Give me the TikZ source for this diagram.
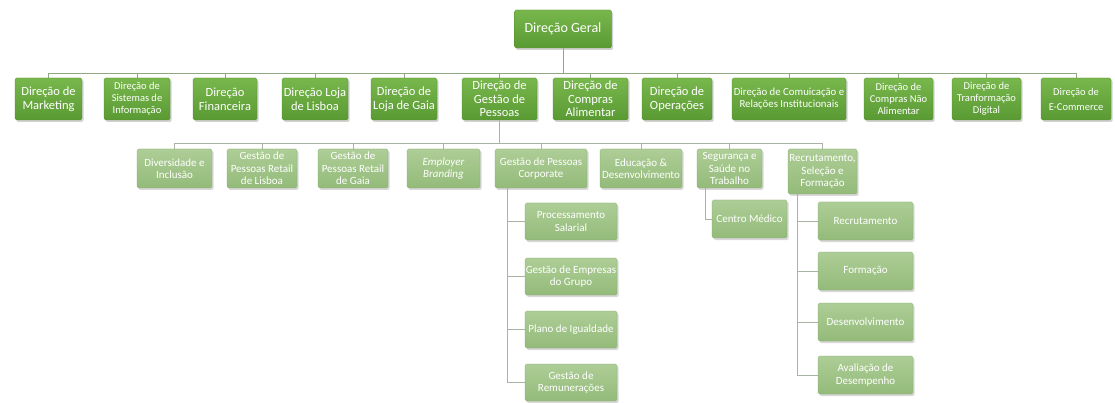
\documentclass[tikz,border=0pt]{standalone}
\usepackage{fontspec}
\setmainfont{Carlito}
\usetikzlibrary{shadows}
\definecolor{gtop}{HTML}{78B74C}
\definecolor{gbot}{HTML}{5A9A33}
\definecolor{ltop}{HTML}{ADCD96}
\definecolor{lbot}{HTML}{94BB7A}
\definecolor{lineA}{HTML}{8FA882}
\definecolor{lineB}{HTML}{A9B3A3}
\tikzset{
  x=1pt,y=-1pt,
  dbox/.style={rectangle, rounded corners=1.5pt, top color=gtop, bottom color=gbot,
    draw=gbot!90!black, line width=0.3pt, text=white, align=center, inner sep=0.5pt,
    drop shadow={opacity=0.35, shadow xshift=1.5pt, shadow yshift=-2pt},
    font=\fontsize{12}{13}\selectfont},
  sbox/.style={rectangle, rounded corners=1.5pt, top color=ltop, bottom color=lbot,
    draw=lbot!90!black, line width=0.3pt, text=white, align=center, inner sep=0.5pt,
    drop shadow={opacity=0.3, shadow xshift=1.5pt, shadow yshift=-2pt},
    font=\fontsize{11}{12.3}\selectfont},
  connA/.style={draw=lineA, line width=0.9pt},
  connB/.style={draw=lineB, line width=0.9pt},
}
\begin{document}
\begin{tikzpicture}
\useasboundingbox[fill=white] (0,0) rectangle (1115,403);
% top
\node[dbox, minimum width=97pt, minimum height=38pt, font=\fontsize{14}{16}\selectfont] (dg) at (563,29) {Direção Geral};
% row 2
\foreach \n/\cx/\w/\t/\f/\s in {
  mk/48.5/67/{Direção de\\Marketing}/12.5/14,
  si/137/66/{Direção de\\Sistemas de\\Informação}/10.5/12,
  fi/225/64/{Direção\\Financeira}/12.5/14,
  ll/315/66/{Direção Loja\\de Lisboa}/12.5/14,
  lg/404/66/{Direção de\\Loja de Gaia}/12.5/14,
  gp/499.5/75/{Direção de\\Gestão de\\Pessoas}/12.5/13.5,
  ca/590.5/75/{Direção de\\Compras\\Alimentar}/12.5/13.5,
  op/677/70/{Direção de\\Operações}/12.5/14,
  co/789/114/{Direção de Comuicação e\\Relações Institucionais}/10.8/12,
  cn/898.5/69/{Direção de\\Compras Não\\Alimentar}/10.5/12,
  td/986.5/69/{Direção de\\Tranformação\\Digital}/10.5/12,
  ec/1076/70/{Direção de\\E-Commerce}/10.5/15}{
  \node[dbox, minimum width=\w pt, minimum height=42pt, font=\fontsize{\f}{\s}\selectfont] (\n) at (\cx,99) {\t};
}
\coordinate (bus) at (0,73);
\draw[connA] (dg.south) -- (dg.south |- bus);
\draw[connA] (mk.north |- bus) -- (ec.north |- bus);
\foreach \n in {mk,si,fi,ll,lg,gp,ca,op,co,cn,td,ec}{
  \draw[connA] (\n.north |- bus) -- (\n.north);
}
% row 3
\foreach \n/\cx/\w/\t in {
  dv/174.5/75/{Diversidade e\\Inclusão},
  gl/262/70/{Gestão de\\Pessoas Retail\\de Lisboa},
  gg/353/70/{Gestão de\\Pessoas Retail\\de Gaia},
  eb/443.5/73/{\itshape Employer\\\itshape Branding},
  gc/541/92/{Gestão de Pessoas\\Corporate},
  ed/641/82/{Educação \&\\Desenvolvimento},
  ss/729.5/65/{Segurança e\\Saúde no\\Trabalho}}{
  \node[sbox, minimum width=\w pt, minimum height=39pt] (\n) at (\cx,168.5) {\t};
}
\node[sbox, minimum width=69pt, minimum height=45pt] (rs) at (822.5,171.5) {Recrutamento,\\Seleção e\\Formação};
\coordinate (sbus) at (0,143);
\draw[connB] (gp.south) -- (gp.south |- sbus);
\draw[connB] (dv.north |- sbus) -- (rs.north |- sbus);
\foreach \n in {dv,gl,gg,eb,gc,ed,ss,rs}{
  \draw[connB] (\n.north |- sbus) -- (\n.north);
}
% corporate children
\foreach \n/\cy/\t in {
  ps/221.5/{Processamento\\Salarial},
  ge/276.5/{Gestão de Empresas\\do Grupo},
  pi/329.5/{Plano de Igualdade},
  gr/382.5/{Gestão de\\Remunerações}}{
  \node[sbox, minimum width=92pt, minimum height=37pt] (\n) at (571,\cy) {\t};
}
\coordinate (gcd) at (507,188);
\foreach \n in {ps,ge,pi,gr}{ \draw[connB] (gcd) |- (\n.west); }
% seguranca child
\node[sbox, minimum width=75pt, minimum height=38pt] (cm) at (749.5,219) {Centro Médico};
\coordinate (ssd) at (705,188);
\draw[connB] (ssd) |- (cm.west);
% recrutamento children
\foreach \n/\cy/\t in {
  rc/221/{Recrutamento},
  fo/271/{Formação},
  de/322/{Desenvolvimento},
  av/375/{Avaliação de\\Desempenho}}{
  \node[sbox, minimum width=95pt, minimum height=38pt] (\n) at (865.5,\cy) {\t};
}
\coordinate (rsd) at (797,194);
\foreach \n in {rc,fo,de,av}{ \draw[connB] (rsd) |- (\n.west); }
\end{tikzpicture}
\end{document}
